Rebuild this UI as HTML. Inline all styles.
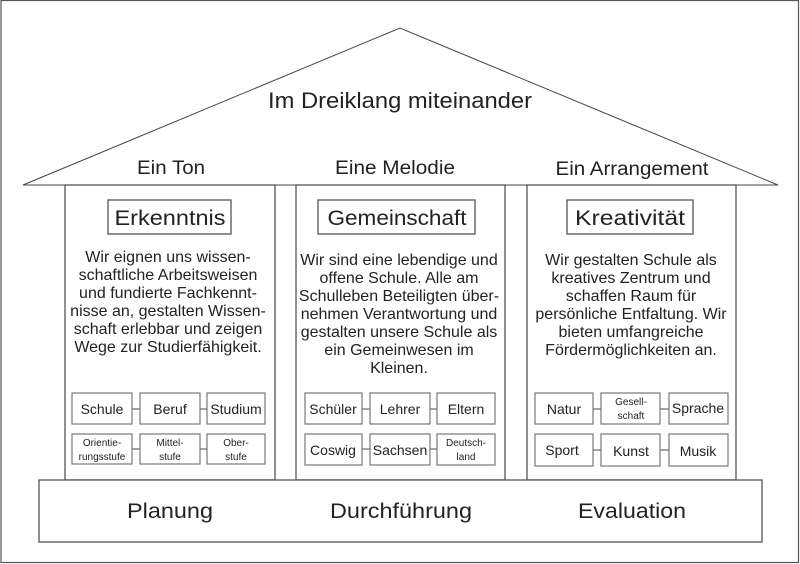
<!DOCTYPE html>
<html><head><meta charset="utf-8"><style>
html,body{margin:0;padding:0;background:#fff;}
svg{display:block;}
.t{font-family:"Liberation Sans",Arial,sans-serif;fill:#222;text-anchor:middle;}
.b{font-family:"Liberation Sans",Arial,sans-serif;fill:#222;text-anchor:middle;}
</style></head><body>
<svg width="800" height="564" viewBox="0 0 800 564" xmlns="http://www.w3.org/2000/svg">
<rect x="1" y="0.5" width="797.5" height="562" fill="#fff" stroke="#555" stroke-width="1.2"/>
<polygon points="23,185 400,28 778,185" fill="#fff" stroke="#444" stroke-width="1"/>
<g fill="#fff" stroke="#555" stroke-width="1.3">
<rect x="65" y="185" width="210" height="295"/>
<rect x="296" y="185" width="209" height="295"/>
<rect x="527" y="185" width="209" height="295"/>
<rect x="39" y="480" width="723" height="62"/>
<rect x="108" y="200" width="123" height="34"/>
<rect x="318" y="200" width="157" height="34"/>
<rect x="567" y="200" width="126" height="34"/>
</g>
<g class="t" font-size="22">
<text x="400" y="108" textLength="264" lengthAdjust="spacingAndGlyphs">Im Dreiklang miteinander</text>
</g>
<g class="t" font-size="19">
<text x="171" y="174" textLength="68" lengthAdjust="spacingAndGlyphs">Ein Ton</text>
<text x="395" y="174" textLength="120" lengthAdjust="spacingAndGlyphs">Eine Melodie</text>
<text x="632" y="175" textLength="153" lengthAdjust="spacingAndGlyphs">Ein Arrangement</text>
</g>
<g class="t" font-size="21">
<text x="170" y="225" textLength="111" lengthAdjust="spacingAndGlyphs">Erkenntnis</text>
<text x="397" y="225" textLength="139" lengthAdjust="spacingAndGlyphs">Gemeinschaft</text>
<text x="630" y="225" textLength="110" lengthAdjust="spacingAndGlyphs">Kreativität</text>
<text x="170" y="518" textLength="86" lengthAdjust="spacingAndGlyphs">Planung</text>
<text x="401" y="518" textLength="142" lengthAdjust="spacingAndGlyphs">Durchführung</text>
<text x="632" y="518" textLength="108" lengthAdjust="spacingAndGlyphs">Evaluation</text>
</g>
<g class="t" font-size="16">
<text x="168" y="262">Wir eignen uns wissen-</text>
<text x="168" y="280">schaftliche Arbeitsweisen</text>
<text x="168" y="298">und fundierte Fachkennt-</text>
<text x="168" y="316">nisse an, gestalten Wissen-</text>
<text x="168" y="334">schaft erlebbar und zeigen</text>
<text x="168" y="352">Wege zur Studierfähigkeit.</text>
<text x="399" y="265">Wir sind eine lebendige und</text>
<text x="399" y="283">offene Schule. Alle am</text>
<text x="399" y="301">Schulleben Beteiligten über-</text>
<text x="399" y="319">nehmen Verantwortung und</text>
<text x="399" y="337">gestalten unsere Schule als</text>
<text x="399" y="355">ein Gemeinwesen im</text>
<text x="399" y="373">Kleinen.</text>
<text x="631" y="265">Wir gestalten Schule als</text>
<text x="631" y="283">kreatives Zentrum und</text>
<text x="631" y="301">schaffen Raum für</text>
<text x="631" y="319">persönliche Entfaltung. Wir</text>
<text x="631" y="337">bieten umfangreiche</text>
<text x="631" y="355">Fördermöglichkeiten an.</text>
</g>
<g stroke="#666" stroke-width="1.2">
<line x1="132" y1="409" x2="140" y2="409"/><line x1="200" y1="409" x2="207" y2="409"/>
<line x1="132" y1="449" x2="140" y2="449"/><line x1="200" y1="449" x2="207" y2="449"/>
<line x1="362" y1="409" x2="370" y2="409"/><line x1="430" y1="409" x2="437" y2="409"/>
<line x1="362" y1="449" x2="370" y2="449"/><line x1="430" y1="449" x2="437" y2="449"/>
<line x1="593" y1="409" x2="601" y2="409"/><line x1="660" y1="409" x2="669" y2="409"/>
<line x1="593" y1="450" x2="601" y2="450"/><line x1="660" y1="450" x2="669" y2="450"/>
</g>
<g fill="#fff" stroke="#777" stroke-width="1.2">
<rect x="72" y="393" width="60" height="31"/><rect x="140" y="393" width="60" height="31"/><rect x="207" y="393" width="58" height="31"/>
<rect x="72" y="434" width="60" height="30"/><rect x="140" y="434" width="60" height="30"/><rect x="207" y="434" width="58" height="30"/>
<rect x="305" y="393" width="57" height="31"/><rect x="370" y="393" width="60" height="31"/><rect x="437" y="393" width="58" height="31"/>
<rect x="305" y="434" width="57" height="31"/><rect x="370" y="434" width="60" height="31"/><rect x="437" y="434" width="58" height="31"/>
<rect x="535" y="393" width="58" height="31"/><rect x="601" y="393" width="59" height="31"/><rect x="669" y="393" width="59" height="31"/>
<rect x="535" y="434" width="58" height="32"/><rect x="601" y="434" width="59" height="32"/><rect x="669" y="434" width="59" height="32"/>
</g>
<g class="b" font-size="14">
<text x="102" y="414">Schule</text><text x="170" y="414">Beruf</text><text x="236" y="414">Studium</text>
<text x="333" y="414">Schüler</text><text x="400" y="414">Lehrer</text><text x="466" y="414">Eltern</text>
<text x="333" y="455">Coswig</text><text x="400" y="455">Sachsen</text>
<text x="564" y="414">Natur</text><text x="698" y="413">Sprache</text>
<text x="562" y="455">Sport</text><text x="631" y="456">Kunst</text><text x="698" y="456">Musik</text>
</g>
<g class="b" font-size="10">
<text x="102" y="446">Orientie-</text><text x="102" y="460">rungsstufe</text>
<text x="170" y="446">Mittel-</text><text x="170" y="460">stufe</text>
<text x="236" y="446">Ober-</text><text x="236" y="460">stufe</text>
<text x="466" y="446">Deutsch-</text><text x="466" y="460">land</text>
<text x="631" y="405">Gesell-</text><text x="631" y="419">schaft</text>
</g>
</svg>
</body></html>
